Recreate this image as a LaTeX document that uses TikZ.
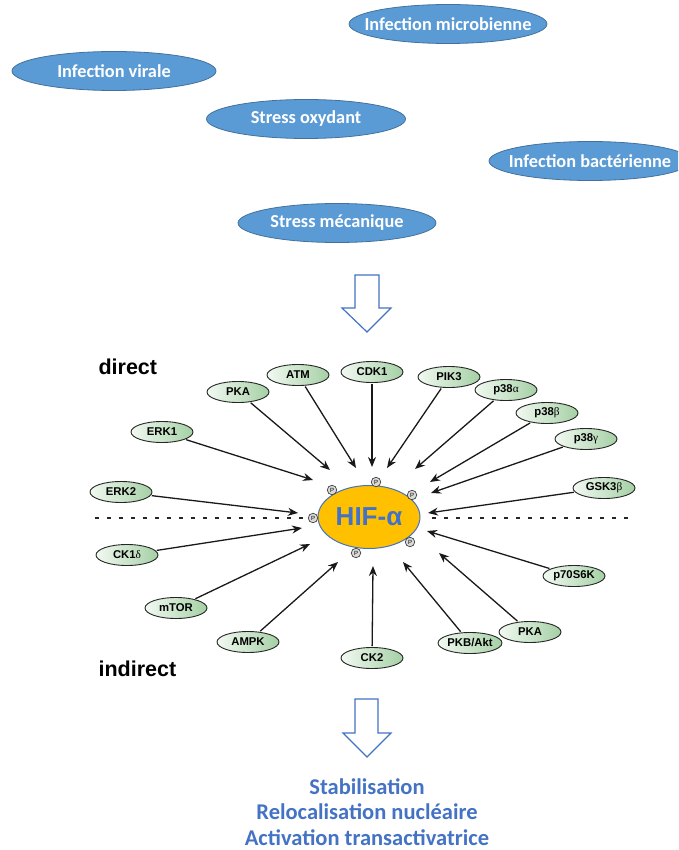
\documentclass[tikz,border=0pt]{standalone}
\usepackage{fontspec}
\setmainfont{Liberation Sans}
\newfontfamily\calib{Carlito}
\newfontfamily\grk{Liberation Serif}
\usetikzlibrary{shapes.geometric,arrows.meta}
\definecolor{cblue}{HTML}{5B9BD5}
\definecolor{cbluedark}{HTML}{41719C}
\definecolor{tblue}{HTML}{4472C4}
\definecolor{hifor}{HTML}{FFC000}
\definecolor{kgl}{HTML}{F2F9F2}
\definecolor{kgd}{HTML}{A5D0A5}
\newcommand{\gk}[1]{{\grk\mdseries #1}}
\begin{document}
\begin{tikzpicture}[x=1pt,y=-1pt,
 cause/.style={ellipse, draw=cbluedark, line width=0.8pt, fill=cblue, minimum width=198pt, minimum height=39pt, inner sep=0pt,
   label={[text=white, font=\calib\bfseries\fontsize{18.3}{20}\selectfont, inner sep=0pt]center:#1}},
 kin/.style={ellipse, draw=black!85, line width=0.9pt, left color=kgl, right color=kgd, minimum width=62pt, minimum height=21pt, inner sep=0pt, font=\bfseries\fontsize{11.3}{13}\selectfont},
 kar/.style={draw=black!90, line width=1.3pt, -{Stealth[length=10pt,width=8pt]}, shorten <=1pt},
 phos/.style={circle, draw=black!75, fill=black!15, line width=0.7pt, minimum size=9.5pt, inner sep=0pt, font=\fontsize{6}{6}\selectfont},
 hollow/.style={draw=tblue, line width=1.2pt, fill=white, line join=miter},
 sepline/.style={line width=2pt, dash pattern=on 4pt off 8pt, black!85},
 lab/.style={anchor=west, font=\bfseries\fontsize{21.5}{24}\selectfont}
]
\useasboundingbox (0,0) rectangle (678,850);
\clip (0,0) rectangle (678,850);

% causes
\node[cause={Infection microbienne}] (microb) at (448,24) {};
\node[cause={Infection virale}, minimum width=204pt] (virale) at (114,71) {};
\node[cause={Stress oxydant}, minimum width=199pt] (oxyd) at (306,119) {};
\node[cause={Infection bactérienne}, minimum width=202pt] (bact) at (590,161) {};
\node[cause={Stress mécanique}] (meca) at (337,223) {};

% hollow arrows
\draw[hollow] (355,275) -- (379,275) -- (379,308) -- (391,308) -- (367,332) -- (342,308) -- (355,308) -- cycle;
\draw[hollow] (355,699) -- (378,699) -- (378,733) -- (391,733) -- (367,757) -- (343,733) -- (355,733) -- cycle;

% labels
\node[lab] (direct) at (95,367) {direct};
\node[lab] (indirect) at (95,669) {indirect};

% separators
\coordinate (sepA) at (95,518);
\coordinate (sepB) at (310,518);
\coordinate (sepC) at (432,518);
\coordinate (sepD) at (635,518);
\draw[sepline] (sepA) -- (sepB);
\draw[sepline] (sepC) -- (sepD);

% HIF
\node[ellipse, draw=tblue, line width=1pt, fill=hifor, minimum width=102pt, minimum height=63pt, inner sep=0pt, text=tblue, font=\bfseries\fontsize{26}{28}\selectfont] (hif) at (369,517) {HIF-α};

% phospho sites
\node[phos] (p1) at (332,490) {P};
\node[phos] (p2) at (376,482) {P};
\node[phos] (p3) at (412,495) {P};
\node[phos] (p4) at (313,518) {P};
\node[phos] (p5) at (410,542) {P};
\node[phos] (p6) at (356,553) {P};

% kinases
\node[kin] (pka1) at (238,392) {PKA};
\node[kin] (atm) at (298,375) {ATM};
\node[kin] (cdk1) at (372,372) {CDK1};
\node[kin] (erk1) at (162,432) {ERK1};
\node[kin] (erk2) at (121,492) {ERK2};
\node[kin] (pik3) at (449,377) {PIK3};
\node[kin] (p38a) at (506,390) {p38\gk{α}};
\node[kin] (p38b) at (547,413) {p38\gk{β}};
\node[kin] (p38g) at (586,439) {p38\gk{γ}};
\node[kin] (gsk) at (604,488) {GSK3\gk{β}};
\node[kin] (ck1) at (127,555) {CK1\gk{δ}};
\node[kin] (mtor) at (176,608) {mTOR};
\node[kin] (ampk) at (248,642) {AMPK};
\node[kin] (ck2) at (372,658) {CK2};
\node[kin] (pkb) at (470,643) {PKB/Akt};
\node[kin] (pka2) at (530,632) {PKA};
\node[kin] (p70) at (574,576) {p70S6K};

% arrow tips
\coordinate (tpka1) at (330,470);
\coordinate (tatm) at (356,468);
\coordinate (tcdk1) at (372,467);
\coordinate (terk1) at (313,480);
\coordinate (terk2) at (298,513);
\coordinate (tpik3) at (387,468);
\coordinate (tp38a) at (415,469);
\coordinate (tp38b) at (430,482);
\coordinate (tp38g) at (431,493);
\coordinate (tgsk) at (428,513);
\coordinate (tck1) at (302,528);
\coordinate (tmtor) at (310,544);
\coordinate (tampk) at (338,562);
\coordinate (tck2) at (373,566);
\coordinate (tpkb) at (403,562);
\coordinate (tpka2) at (439,553);
\coordinate (tp70) at (427,531);

\foreach \k in {pka1,atm,cdk1,erk1,erk2,pik3,p38a,p38b,p38g,gsk,ck1,mtor,ampk,ck2,pkb,pka2,p70}
  \draw[kar] (\k) -- (t\k);

% outcomes
\node[font=\calib\bfseries\fontsize{22.5}{25.5}\selectfont, text=tblue, align=center] (out) at (367,812) {Stabilisation\\Relocalisation nucléaire\\Activation transactivatrice};
\end{tikzpicture}
\end{document}
